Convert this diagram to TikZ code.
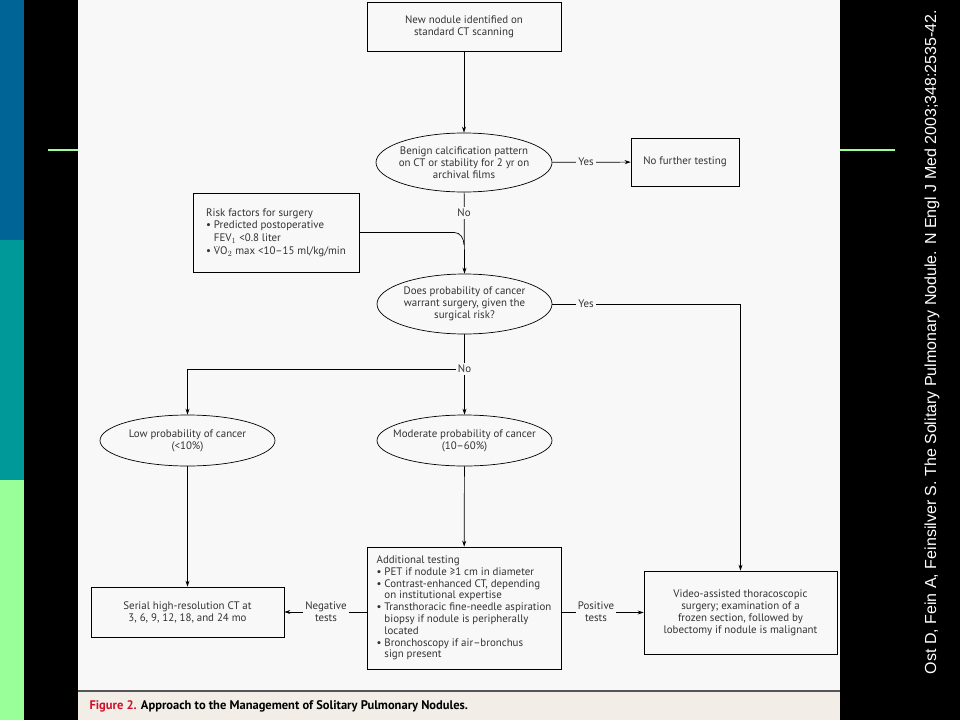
\documentclass[tikz,border=0pt]{standalone}
\usepackage{fontspec}
\setmainfont{PT Sans}
\newfontfamily\arialfont{Liberation Sans}
\usetikzlibrary{shapes.geometric,arrows.meta}
\definecolor{panel}{HTML}{F8F8F8}
\definecolor{capbg}{HTML}{F3EDE8}
\definecolor{capline}{HTML}{555555}
\definecolor{slblue}{RGB}{0,100,150}
\definecolor{slteal}{RGB}{0,153,153}
\definecolor{slgreen}{RGB}{153,255,153}
\definecolor{txt}{HTML}{333333}
\definecolor{capred}{HTML}{D0102A}
\newcommand{\Vdot}{\ooalign{V\cr\hidewidth\raisebox{0.62em}{\scalebox{0.8}{.}}\hidewidth\cr}}
\begin{document}
\begin{tikzpicture}[x=1pt,y=-1pt,
  every node/.style={text=txt, font=\fontsize{10.9}{12}\selectfont},
  box/.style={draw=black, line width=0.7pt, fill=panel, align=center, inner sep=2pt},
  ell/.style={draw=black, line width=0.7pt, fill=panel, ellipse, align=center, inner xsep=-20pt, inner ysep=-4pt},
  conn/.style={draw=black, line width=0.7pt},
  arr/.style={conn, -{Stealth[length=6pt,width=4pt]}},
  lbl/.style={fill=panel, inner sep=2pt, align=center}]
\useasboundingbox (0,0) rectangle (960,720);
\fill[black] (0,0) rectangle (960,720);
\fill[slblue] (0,0) rectangle (24,240);
\fill[slteal] (0,240) rectangle (24,480);
\fill[slgreen] (0,480) rectangle (24,720);
\fill[panel] (78,0) rectangle (840,691);
\fill[capbg] (78,691) rectangle (840,720);
\draw[capline, line width=1.5pt] (78,691) -- (840,691);
\draw[slgreen, line width=1.5pt] (48,150) -- (78,150);
\draw[slgreen, line width=1.5pt] (840,150) -- (895,150);

\node[box, minimum width=194pt, minimum height=49pt] (new) at (464,26.5) {New nodule identified on\\standard CT scanning};
\node[ell, minimum width=176pt, minimum height=59pt] (benign) at (464,162.5) {Benign calcification pattern\\on CT or stability for 2 yr on\\archival films};
\node[box, minimum width=108pt, minimum height=48pt] (nofurther) at (685,162) {No further testing};
\node[box, align=left, minimum width=166pt, minimum height=79pt, font=\fontsize{10.9}{12.8}\selectfont] (risk) at (276,232.5) {Risk factors for surgery\\\textbullet\ Predicted postoperative\\\phantom{\textbullet}\ FEV$_1$ <0.8 liter\\\textbullet\ \Vdot O$_2$ max <10–15 ml/kg/min};
\node[ell, minimum width=175pt, minimum height=60pt] (doesprob) at (464.5,304) {Does probability of cancer\\warrant surgery, given the\\surgical risk?};
\node[ell, minimum width=175pt, minimum height=51pt] (low) at (187.5,440.5) {Low probability of cancer\\(<10\%)};
\node[ell, minimum width=175pt, minimum height=51pt] (moderate) at (464.5,440.5) {Moderate probability of cancer\\(10–60\%)};
\node[box, align=left, minimum width=194pt, minimum height=122pt, font=\fontsize{10.9}{11.8}\selectfont] (addl) at (464,608) {Additional testing\\\textbullet\ PET if nodule ≥1 cm in diameter\\\textbullet\ Contrast-enhanced CT, depending\\\phantom{\textbullet}\ on institutional expertise\\\textbullet\ Transthoracic fine-needle aspiration\\\phantom{\textbullet}\ biopsy if nodule is peripherally\\\phantom{\textbullet}\ located\\\textbullet\ Bronchoscopy if air–bronchus\\\phantom{\textbullet}\ sign present};
\node[box, minimum width=193pt, minimum height=50pt] (serial) at (187.5,612) {Serial high-resolution CT at\\3, 6, 9, 12, 18, and 24 mo};
\node[box, minimum width=193pt, minimum height=83pt] (video) at (740.5,612.5) {Video-assisted thoracoscopic\\surgery; examination of a\\frozen section, followed by\\lobectomy if nodule is malignant};

\coordinate (merge) at (464,245);
\coordinate (nojoin) at (464.5,369);

\draw[arr] (new) -- (benign);
\draw[arr] (benign) -- (nofurther);
\draw[arr] (benign) -- (doesprob.north);
\draw[conn] (risk.east) -- ++(95,0) to[out=0,in=90] (merge);
\draw[arr] (doesprob.east) -| (video.north);
\draw[arr] (doesprob) -- (moderate);
\draw[arr] (nojoin) -| (low.north);
\draw[arr] (moderate) -- (addl);
\draw[arr] (low) -- (serial);
\draw[arr] (addl.west |- serial.east) -- (serial.east);
\draw[arr] (addl.east |- video.west) -- (video.west);

\node[lbl] (yes1) at (586,162) {Yes};
\node[lbl] (no1) at (464,213) {No};
\node[lbl] (yes2) at (586,304) {Yes};
\node[lbl] (no2) at (464.5,369) {No};
\node[lbl] (neg) at (326,612) {Negative\\tests};
\node[lbl] (pos) at (596,612) {Positive\\tests};

\node[anchor=west, font=\fontsize{12.5}{14}\selectfont\bfseries, text=black] (cap) at (86,706) {\textcolor{capred}{Figure 2.} Approach to the Management of Solitary Pulmonary Nodules.};
\node[rotate=90, text=white, font=\arialfont\fontsize{16}{18}\selectfont] (ref) at (932,342) {Ost D, Fein A, Feinsilver S. The Solitary Pulmonary Nodule. N Engl J Med 2003;348:2535-42.};
\end{tikzpicture}
\end{document}
